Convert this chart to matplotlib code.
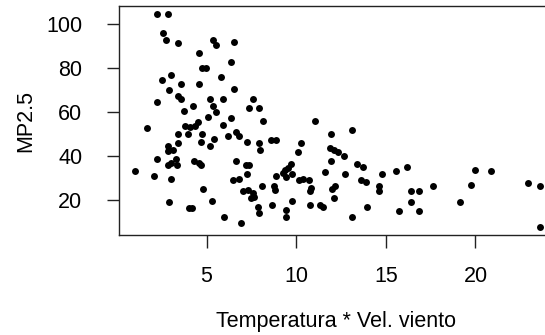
import matplotlib.pyplot as plt
import numpy as np

# Temperatura * Vel. viento vs MP2.5
temp_viento = [
    2.26, 2.82, 2.58, 2.75, 3.38, 3.04, 2.50, 3.60, 2.92, 3.38,
    3.60, 2.26, 3.75, 1.70, 3.77, 4.05, 4.33, 4.51, 3.95, 3.40,
    3.38, 2.82, 3.10, 2.82, 2.26, 3.28, 3.00, 2.82, 3.34, 0.99,
    2.04, 3.04, 2.88, 4.03, 5.34, 5.52, 6.55, 4.55, 6.36, 4.72,
    4.95, 5.82, 4.55, 6.55, 5.18, 5.89, 7.57, 4.26, 5.34, 5.52,
    7.38, 7.94, 5.06, 6.36, 5.89, 4.72, 4.68, 5.21, 5.43, 6.21,
    6.64, 6.83, 7.25, 7.94, 8.00, 4.31, 4.59, 4.68, 6.64, 7.20,
    7.38, 7.25, 6.45, 6.83, 7.01, 7.29, 7.57, 7.66, 7.47, 7.85,
    7.94, 4.78, 5.28, 4.16, 5.99, 6.92, 8.15, 11.03, 8.60, 8.88,
    10.29, 10.10, 11.93, 11.91, 12.09, 12.34, 11.93, 11.63, 9.73, 9.54,
    9.36, 9.26, 9.41, 9.79, 8.85, 10.16, 10.38, 10.72, 10.85, 10.75,
    8.11, 8.74, 8.80, 12.15, 11.97, 9.79, 8.67, 10.75, 11.31, 11.50,
    12.09, 9.41, 9.41, 13.12, 12.65, 13.38, 13.75, 12.73, 13.62, 13.90,
    14.78, 15.58, 16.19, 14.61, 14.61, 16.38, 16.83, 16.38, 13.94, 15.73,
    16.83, 13.12, 17.63, 19.96, 20.88, 19.77, 19.12, 22.93, 23.59, 23.59,
]
mp25 = [
    104.3, 104.3, 95.8, 92.6, 91.5, 76.8, 74.5, 72.7, 70.0, 67.5,
    65.9, 64.5, 60.5, 53.0, 53.6, 53.3, 53.6, 55.4, 50.2, 50.2,
    46.1, 44.9, 43.0, 42.3, 39.0, 38.8, 37.0, 36.2, 36.2, 33.2,
    30.9, 29.7, 19.4, 16.8, 92.9, 90.5, 91.7, 86.8, 82.9, 79.9,
    79.9, 75.8, 72.7, 70.5, 65.9, 65.8, 65.9, 62.9, 62.9, 59.9,
    61.8, 61.8, 57.9, 57.6, 54.2, 50.3, 46.5, 44.9, 47.9, 49.1,
    50.9, 49.1, 46.5, 46.1, 43.0, 37.7, 37.0, 36.2, 37.7, 36.2,
    36.2, 32.1, 29.1, 29.7, 24.1, 24.9, 23.6, 21.8, 21.1, 17.0,
    14.3, 25.2, 19.9, 16.8, 12.3, 10.0, 55.9, 55.9, 47.6, 47.6,
    46.1, 42.0, 50.2, 43.8, 42.7, 41.8, 38.0, 32.7, 36.7, 34.7,
    33.6, 32.5, 30.6, 32.1, 30.9, 29.4, 29.7, 29.1, 25.6, 24.1,
    26.7, 26.4, 24.9, 26.7, 25.2, 19.9, 18.0, 18.0, 18.0, 17.0,
    21.1, 15.5, 12.4, 51.8, 40.3, 36.7, 35.0, 32.1, 29.4, 28.2,
    32.1, 33.2, 35.0, 26.4, 24.1, 24.1, 24.1, 19.3, 17.0, 15.3,
    15.3, 12.3, 26.4, 33.6, 33.2, 26.8, 19.3, 28.0, 26.4, 8.2,
]
x_ticks = [5, 10, 15, 20]
y_ticks = [20, 40, 60, 80, 100]

plt.rcParams["font.family"] = ["Liberation Sans", "DejaVu Sans"]

fig = plt.figure(figsize=(5.45, 3.35), dpi=100)
ax = fig.add_axes([118.5 / 545, 100 / 335, 437.5 / 545, 229 / 335])

ax.scatter(temp_viento, mp25, s=25, color="black", linewidths=0)


def r_limits(values):
    # R pads the data range by 4% on both sides
    lo, hi = min(values), max(values)
    pad = 0.04 * (hi - lo)
    return lo - pad, hi + pad


ax.set_xlim(*r_limits(temp_viento))
ax.set_ylim(*r_limits(mp25))
ax.set_xticks(x_ticks)
ax.set_yticks(y_ticks)

for spine in ax.spines.values():
    spine.set_linewidth(1.0)
    spine.set_color("#222222")

ax.tick_params(axis="both", direction="out", length=9, width=1.0,
               color="#222222", labelsize=15.5, pad=13)
ax.tick_params(axis="y", pad=17)

fig.text(0.616, 0.01, "Temperatura * Vel. viento", ha="center", va="bottom",
         fontsize=15.5)
fig.text(0.047, 0.64, "MP2.5", ha="center", va="center",
         rotation=90, fontsize=15.5)

fig.savefig("out.png", dpi=100)
